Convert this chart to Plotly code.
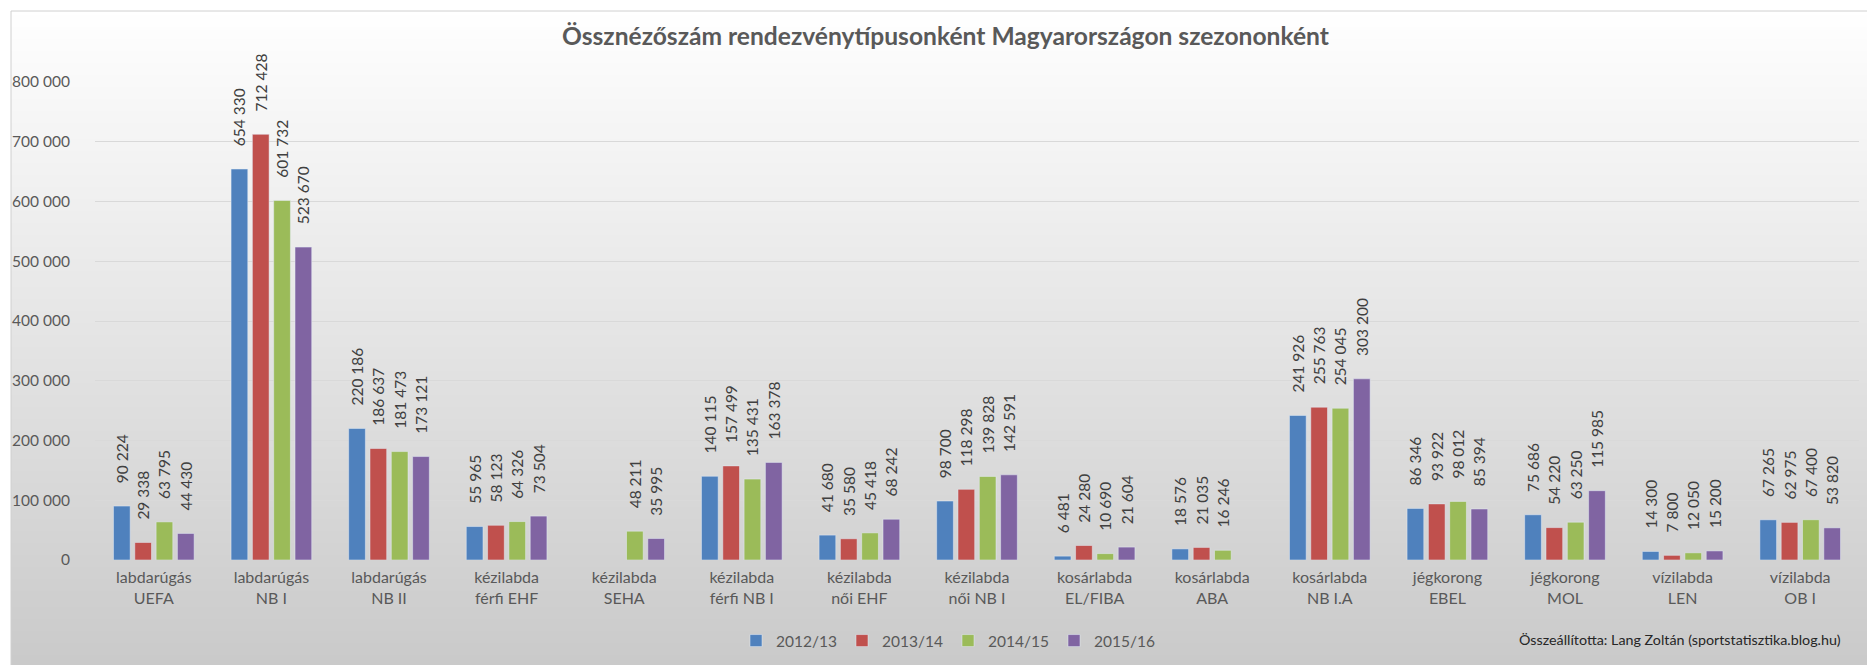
import plotly.graph_objects as go

categories = [
    "labdarúgás<br>UEFA", "labdarúgás<br>NB I", "labdarúgás<br>NB II",
    "kézilabda<br>férfi EHF", "kézilabda<br>SEHA", "kézilabda<br>férfi NB I",
    "kézilabda<br>női EHF", "kézilabda<br>női NB I", "kosárlabda<br>EL/FIBA",
    "kosárlabda<br>ABA", "kosárlabda<br>NB I.A", "jégkorong<br>EBEL",
    "jégkorong<br>MOL", "vízilabda<br>LEN", "vízilabda<br>OB I",
]
seasons = ["2012/13", "2013/14", "2014/15", "2015/16"]
v2012_13 = [90224, 654330, 220186, 55965, None, 140115, 41680, 98700, 6481, 18576, 241926, 86346, 75686, 14300, 67265]
v2013_14 = [29338, 712428, 186637, 58123, None, 157499, 35580, 118298, 24280, 21035, 255763, 93922, 54220, 7800, 62975]
v2014_15 = [63795, 601732, 181473, 64326, 48211, 135431, 45418, 139828, 10690, 16246, 254045, 98012, 63250, 12050, 67400]
v2015_16 = [44430, 523670, 173121, 73504, 35995, 163378, 68242, 142591, 21604, None, 303200, 85394, 115985, 15200, 53820]
series = [v2012_13, v2013_14, v2014_15, v2015_16]
colors = ["#4F81BD", "#C0504D", "#9BBB59", "#8064A2"]

title_text = "Össznézőszám rendezvénytípusonként Magyarországon szezononként"
credit_text = "Összeállította: Lang Zoltán (sportstatisztika.blog.hu)"

W, H = 1875, 665
ML, MR, MT, MB = 87, 24, 74, 113
PW, PH = W - ML - MR, H - MT - MB

def px_x(px):
    return (px - ML) / PW

def px_y(py):
    return (H - MB - py) / PH

fig = go.Figure()
for name, vals, col in zip(seasons, series, colors):
    fig.add_trace(go.Bar(
        name=name, x=categories, y=vals, marker_color=col,
        texttemplate="\u00a0\u00a0\u00a0\u00a0\u00a0%{y:,.0f}",
        textposition="outside", textangle=-90, constraintext="none",
        cliponaxis=False,
        textfont=dict(family="Lato", size=15.5, color="#404040"),
    ))

# background gradient bands + border
shapes = []
top, bottom, left, right = 3, 661, 3, 1870
step = 4
py = top
while py < bottom:
    y1 = min(py + step, bottom)
    c = (py + y1) / 2
    g = int(round(255 - 54 * (c / H)))
    shapes.append(dict(type="rect", xref="paper", yref="paper", layer="below",
                       x0=px_x(left), x1=px_x(right), y0=px_y(y1), y1=px_y(py),
                       fillcolor=f"rgb({g},{g},{g})", line=dict(width=0)))
    py = y1
shapes.append(dict(type="rect", xref="paper", yref="paper", layer="below",
                   x0=px_x(left), x1=px_x(right), y0=px_y(bottom), y1=px_y(top),
                   fillcolor="rgba(0,0,0,0)", line=dict(color="#d0d0d0", width=1)))

fig.update_layout(
    width=W, height=H,
    margin=dict(l=ML, r=MR, t=MT, b=MB, autoexpand=False),
    paper_bgcolor="white", plot_bgcolor="rgba(0,0,0,0)",
    separators=", ",
    barmode="group", bargap=0.275, bargroupgap=0.216,
    font=dict(family="Lato", color="#595959"),
    title=dict(text="<b>" + title_text + "</b>", x=0.5, xref="container", xanchor="center",
               y=1 - 28 / H, yref="container", yanchor="middle",
               font=dict(family="Lato", size=24.6, color="#595959")),
    xaxis=dict(showgrid=False, showline=False, zeroline=False, ticks="",
               tickfont=dict(family="Lato", size=16, color="#595959"),
               ticklabelstandoff=6),
    yaxis=dict(range=[0, 800000], dtick=100000, tickformat=",.0f",
               showgrid=True, gridcolor="#d9d9d9", gridwidth=1,
               zeroline=False, showline=False, ticks="",
               tickfont=dict(family="Lato", size=15.5, color="#595959"),
               ticklabelstandoff=24),
    legend=dict(orientation="h", x=px_x(940), xanchor="center",
                y=px_y(633), yanchor="middle", entrywidth=61,
                font=dict(family="Lato", size=15.5, color="#595959"),
                bgcolor="rgba(0,0,0,0)"),
    shapes=shapes,
    annotations=[dict(text=credit_text, xref="paper", yref="paper",
                      x=px_x(1835), y=px_y(631), xanchor="right", yanchor="middle",
                      showarrow=False,
                      font=dict(family="Lato", size=14.3, color="#262626"))],
)

fig.write_html("out.html")
